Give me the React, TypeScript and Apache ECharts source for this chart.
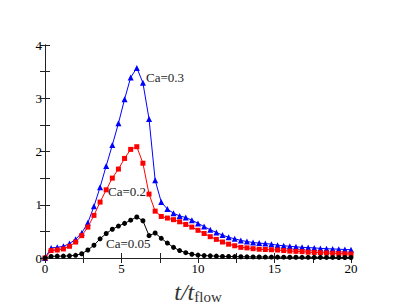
import React, { useEffect, useRef } from "react";
import * as echarts from "echarts";

const times = [
  0, 0.4, 0.8, 1.2, 1.6, 2.0, 2.4, 2.8, 3.2, 3.6, 4.0, 4.4, 4.8, 5.2, 5.6, 6.0, 6.4, 6.8, 7.2, 7.6,
  8.0, 8.4, 8.8, 9.2, 9.6, 10.0, 10.4, 10.8, 11.2, 11.6, 12.0, 12.4, 12.8, 13.2, 13.6, 14.0, 14.4, 14.8,
  15.2, 15.6, 16.0, 16.4, 16.8, 17.2, 17.6, 18.0, 18.4, 18.8, 19.2, 19.6, 20.0,
];

const ca03 = [
  0, 0.19, 0.2, 0.22, 0.27, 0.35, 0.47, 0.66, 0.97, 1.33, 1.73, 2.12, 2.53, 2.98, 3.39, 3.57, 3.29, 2.61, 1.46, 1.05,
  0.92, 0.84, 0.79, 0.76, 0.71, 0.65, 0.59, 0.53, 0.48, 0.43, 0.39, 0.36, 0.33, 0.31, 0.29, 0.28, 0.27, 0.26,
  0.24, 0.23, 0.22, 0.21, 0.2, 0.195, 0.19, 0.18, 0.175, 0.17, 0.165, 0.16, 0.155,
];

const ca02 = [
  0, 0.14, 0.15, 0.17, 0.22, 0.3, 0.42, 0.58, 0.8, 1.05, 1.28, 1.5, 1.67, 1.87, 2.04, 2.09, 1.78, 1.2, 0.88, 0.78,
  0.75, 0.72, 0.68, 0.63, 0.58, 0.52, 0.46, 0.4, 0.35, 0.3, 0.26, 0.23, 0.2, 0.19, 0.175, 0.165, 0.16, 0.155,
  0.15, 0.14, 0.13, 0.125, 0.12, 0.11, 0.105, 0.1, 0.095, 0.09, 0.085, 0.08, 0.075,
];

const ca005 = [
  0, 0.03, 0.035, 0.035, 0.04, 0.05, 0.08, 0.15, 0.24, 0.36, 0.46, 0.54, 0.6, 0.65, 0.71, 0.77, 0.7, 0.42, 0.47, 0.37,
  0.28, 0.2, 0.14, 0.1, 0.07, 0.055, 0.045, 0.04, 0.035, 0.03, 0.028, 0.026, 0.024, 0.022, 0.02, 0.019, 0.018, 0.017,
  0.016, 0.015, 0.014, 0.014, 0.013, 0.013, 0.012, 0.012, 0.011, 0.011, 0.01, 0.01, 0.01,
];

const seriesNames = ["Ca=0.3", "Ca=0.2", "Ca=0.05"];
const xTickLabels = ["0", "5", "10", "15", "20"];
const yTickLabels = ["0", "1", "2", "3", "4"];

const SERIF = "Liberation Serif";

function pairs(ys: number[]) {
  return times.map((t, i) => [t, ys[i]]);
}

function pick(labels: string[], v: number, step: number) {
  const k = v / step;
  return Math.abs(k - Math.round(k)) < 1e-6 ? labels[Math.round(k)] ?? "" : "";
}

export default function App() {
  const ref = useRef<HTMLDivElement>(null);
  useEffect(() => {
    if (!ref.current) return;
    document.body.style.margin = "0";
    const chart = echarts.init(ref.current, undefined, { renderer: "svg" });
    const axisLine = { show: true, lineStyle: { color: "#222", width: 1 } };
    const tick = { show: true, inside: true, length: 5, lineStyle: { color: "#222", width: 1 } };
    const labelText = { fontFamily: SERIF, fontSize: 13, fill: "#222" };
    const tickLabel = { margin: 4, fontFamily: SERIF, fontSize: 13, color: "#000", showMinLabel: true, showMaxLabel: true };
    const xCommon = { type: "value", min: 0, max: 20, interval: 2.5, axisLine, axisTick: tick, splitLine: { show: false } };
    const yCommon = { type: "value", min: 0, max: 4, interval: 0.5, axisLine, axisTick: tick, splitLine: { show: false } };
    const base = {
      animation: false,
      grid: { left: 45, right: 44, top: 45, bottom: 47, containLabel: false, outerBoundsMode: "none" },
      xAxis: [
        {
          ...xCommon,
          axisLabel: { ...tickLabel, formatter: (v: number) => pick(xTickLabels, v, 5) },
          name: "{a|t/t}{b|flow}",
          nameLocation: "middle",
          nameGap: 18,
          nameTextStyle: {
            rich: {
              a: { fontFamily: SERIF, fontStyle: "italic", fontSize: 24, color: "#333" },
              b: { fontFamily: SERIF, fontSize: 15, color: "#333", padding: [11, 0, 0, 0] },
            },
          },
        },
        { ...xCommon, position: "top", axisLabel: { show: false } },
      ],
      yAxis: [
        { ...yCommon, axisLabel: { ...tickLabel, margin: 3, formatter: (v: number) => pick(yTickLabels, v, 1) } },
        { ...yCommon, position: "right", axisLabel: { show: false } },
      ],
      series: [
        {
          name: seriesNames[0],
          type: "line",
          data: pairs(ca03),
          symbol: "triangle",
          symbolSize: 6,
          lineStyle: { color: "#0000ff", width: 1 },
          itemStyle: { color: "#0000ff" },
          z: 3,
        },
        {
          name: seriesNames[1],
          type: "line",
          data: pairs(ca02),
          symbol: "rect",
          symbolSize: 5,
          lineStyle: { color: "#ff0000", width: 1 },
          itemStyle: { color: "#ff0000" },
          z: 4,
        },
        {
          name: seriesNames[2],
          type: "line",
          data: pairs(ca005),
          symbol: "circle",
          symbolSize: 5,
          lineStyle: { color: "#000000", width: 1 },
          itemStyle: { color: "#000000" },
          z: 5,
        },
      ],
      graphic: [
        { type: "text", left: 146, top: 71, z: 10, style: { text: seriesNames[0], ...labelText } },
        { type: "text", left: 108, top: 185, z: 10, style: { text: seriesNames[1], ...labelText } },
        { type: "text", left: 106, top: 237, z: 10, style: { text: seriesNames[2], ...labelText } },
      ],
    };
    chart.setOption(base as any);
    return () => chart.dispose();
  }, []);
  return <div ref={ref} style={{ width: 395, height: 305 }} />;
}
